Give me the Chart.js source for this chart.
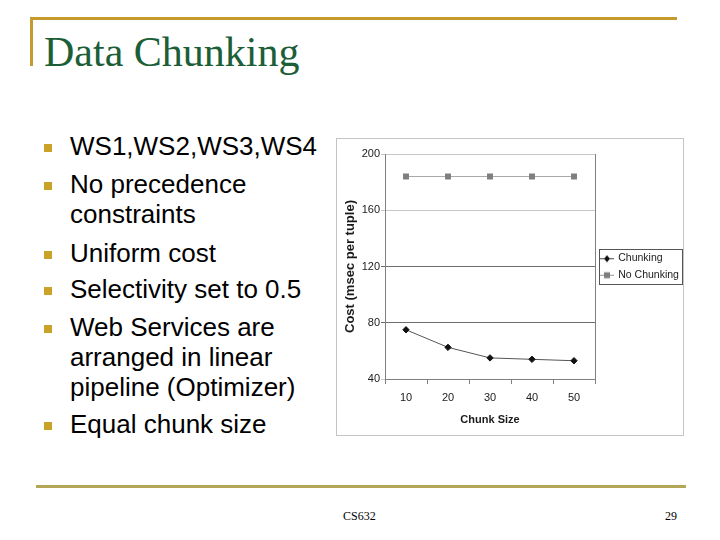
<!DOCTYPE html>
<html><head><meta charset="utf-8">
<script src="https://cdn.jsdelivr.net/npm/chart.js@4"></script>
<style>
html,body{margin:0;padding:0;background:#fff;}
body{width:720px;height:540px;position:relative;overflow:hidden;font-family:"Liberation Sans",Arial,sans-serif;}
.topline{position:absolute;left:30px;top:17px;width:647px;height:3px;background:#c49b2c;}
.leftline{position:absolute;left:30px;top:17px;width:3px;height:49px;background:#c49b2c;}
.title{position:absolute;left:44px;top:31px;font-family:"Liberation Serif","Times New Roman",serif;font-size:42px;line-height:42px;color:#1b5e37;white-space:nowrap;}
.p{position:absolute;left:70px;font-size:26px;line-height:30px;color:#000;white-space:nowrap;}
.b{position:absolute;left:44px;width:8px;height:8px;background:#c9a227;}
.botline{position:absolute;left:36px;top:485px;width:650px;height:3px;background:#b3a757;}
.foot{position:absolute;top:509px;font-family:"Liberation Serif","Times New Roman",serif;font-size:12px;line-height:14px;color:#000;}
#box{position:absolute;left:336px;top:138px;width:348px;height:298px;box-sizing:border-box;border:1px solid #c4c4c4;background:#fff;}
#c{display:block;}
</style></head>
<body>
<div class="topline"></div><div class="leftline"></div>
<div class="title">Data Chunking</div>

<div class="b" style="top:144px"></div><div class="p" style="top:131px">WS1,WS2,WS3,WS4</div>
<div class="b" style="top:182px"></div><div class="p" style="top:169px">No precedence<br>constraints</div>
<div class="b" style="top:251px"></div><div class="p" style="top:238px">Uniform cost</div>
<div class="b" style="top:287px"></div><div class="p" style="top:274px">Selectivity set to 0.5</div>
<div class="b" style="top:325px"></div><div class="p" style="top:312px">Web Services are<br>arranged in linear<br>pipeline (Optimizer)</div>
<div class="b" style="top:422px"></div><div class="p" style="top:409px">Equal chunk size</div>

<div id="box"><canvas id="c" width="346" height="296"></canvas></div>

<div class="botline"></div>
<div class="foot" style="left:343px">CS632</div>
<div class="foot" style="left:665px">29</div>

<script>
// ---- data ----
const chunkSizes = ['10', '20', '30', '40', '50'];
const chunking = [75, 62.5, 55, 54, 53];
const noChunking = [184, 184, 184, 184, 184];
const yTicks = [40, 80, 120, 160, 200];
const seriesNames = ['Chunking', 'No Chunking'];
const xTitle = 'Chunk Size';
const yTitle = 'Cost (msec per tuple)';

const FONT = '"Liberation Sans", Arial, sans-serif';

function legendIcon(lineColor, markColor, shape) {
  const cv = document.createElement('canvas');
  cv.width = 14; cv.height = 10;
  const g = cv.getContext('2d');
  g.strokeStyle = lineColor; g.lineWidth = 1;
  g.beginPath(); g.moveTo(0, 5.5); g.lineTo(14, 5.5); g.stroke();
  g.fillStyle = markColor;
  g.beginPath();
  if (shape === 'diamond') {
    g.moveTo(7, 2); g.lineTo(10, 5.5); g.lineTo(7, 9); g.lineTo(4, 5.5); g.closePath();
  } else {
    g.rect(4, 2.5, 6, 6);
  }
  g.fill();
  return cv;
}
const icons = [legendIcon('#444', '#111', 'diamond'), legendIcon('#999', '#7f7f7f', 'square')];

const legendBorder = {
  id: 'legendBorder',
  afterDraw(chart) {
    const lg = chart.legend;
    if (!lg || !lg.legendHitBoxes || !lg.legendHitBoxes.length) return;
    const hb = lg.legendHitBoxes;
    let l = Infinity, r = -Infinity, t = Infinity, b = -Infinity;
    hb.forEach(h => { l = Math.min(l, h.left); r = Math.max(r, h.left + h.width); t = Math.min(t, h.top); b = Math.max(b, h.top + h.height); });
    const ctx = chart.ctx;
    ctx.save();
    ctx.strokeStyle = '#555';
    ctx.lineWidth = 1;
    ctx.strokeRect(Math.round(l - 2) + 0.5, Math.round(t - 4) + 0.5, Math.round(r - l + 5), Math.round(b - t + 8));
    ctx.restore();
  }
};

new Chart(document.getElementById('c'), {
  type: 'line',
  data: {
    labels: chunkSizes,
    datasets: [
      { label: seriesNames[0], data: chunking, borderColor: '#555', borderWidth: 1,
        pointStyle: 'rectRot', pointRadius: 3.2, pointBackgroundColor: '#111', pointBorderColor: '#111', pointBorderWidth: 1, tension: 0 },
      { label: seriesNames[1], data: noChunking, borderColor: '#aaa', borderWidth: 1,
        pointStyle: 'rect', pointRadius: 4.2, pointBackgroundColor: '#7f7f7f', pointBorderColor: '#7f7f7f', pointBorderWidth: 0, tension: 0 }
    ]
  },
  options: {
    responsive: false,
    animation: false,
    layout: { padding: { top: 15, right: 0, bottom: 0, left: 0 } },
    plugins: {
      tooltip: { enabled: false },
      legend: {
        position: 'right',
        fullSize: false,
        maxWidth: 88,
        labels: {
          usePointStyle: true,
          pointStyleWidth: 12,
          padding: 6,
          color: '#1a1a1a',
          font: { family: FONT, size: 10.5 },
          generateLabels: (chart) => chart.data.datasets.map((ds, i) => ({
            text: ds.label, pointStyle: icons[i], fillStyle: ds.pointBackgroundColor,
            strokeStyle: ds.borderColor, lineWidth: 0, hidden: false, datasetIndex: i, fontColor: '#1a1a1a'
          }))
        }
      }
    },
    scales: {
      x: {
        type: 'category',
        offset: true,
        afterFit: s => { s.height = 56; },
        grid: {
          offset: true,
          drawOnChartArea: true,
          color: c => (c.type === 'scale' ? '#808080' : 'rgba(0,0,0,0)'),
          tickColor: '#808080',
          tickLength: 5
        },
        border: { color: '#808080' },
        ticks: { padding: 7, color: '#1a1a1a', font: { family: FONT, size: 11 } },
        title: { display: true, text: xTitle, color: '#1a1a1a', padding: { top: 0, bottom: 8 }, font: { family: FONT, size: 11, weight: 'bold' } }
      },
      y: {
        min: yTicks[0],
        max: yTicks[yTicks.length - 1],
        afterFit: s => { s.width = 48; },
        afterBuildTicks: s => { s.ticks = yTicks.map(v => ({ value: v })); },
        grid: {
          color: c => (c.tick && (c.tick.value === 80 || c.tick.value === 120)) ? '#6e6e6e' : '#c8c8c8',
          tickLength: 4
        },
        border: { color: '#808080' },
        ticks: { padding: 1, color: '#1a1a1a', font: { family: FONT, size: 11 } },
        title: { display: true, text: yTitle, color: '#1a1a1a', padding: { top: 6, bottom: 0 }, font: { family: FONT, size: 13, weight: 'bold' } }
      }
    }
  },
  plugins: [legendBorder]
});
</script>
</body></html>
